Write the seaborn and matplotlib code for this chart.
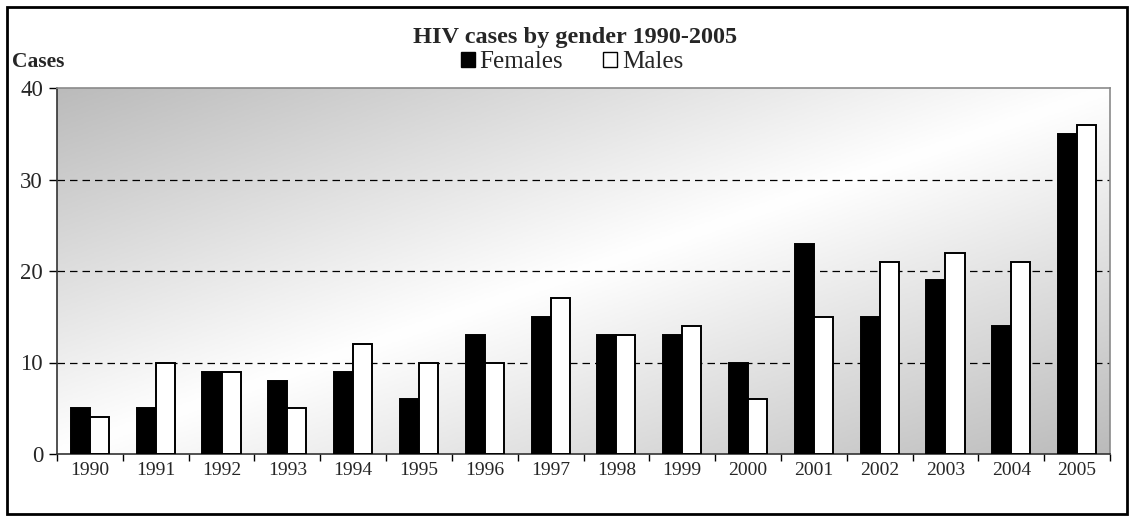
import numpy as np
import pandas as pd
import matplotlib
matplotlib.use("Agg")
import matplotlib.pyplot as plt
from matplotlib.patches import Rectangle
from matplotlib.colors import LinearSegmentedColormap
import seaborn as sns

years = ["1990", "1991", "1992", "1993", "1994", "1995", "1996", "1997",
         "1998", "1999", "2000", "2001", "2002", "2003", "2004", "2005"]
females = [5, 5, 9, 8, 9, 6, 13, 15, 13, 13, 10, 23, 15, 19, 14, 35]
males = [4, 10, 9, 5, 12, 10, 10, 17, 13, 14, 6, 15, 21, 22, 21, 36]
series_names = ["Females", "Males"]
yticks = [0, 10, 20, 30, 40]
title = "HIV cases by gender 1990-2005"
ylabel = "Cases"

sns.set_theme(style="white")
plt.rcParams["font.family"] = ["Liberation Serif", "DejaVu Serif"]

df = pd.DataFrame({
    "year": years * 2,
    "gender": [series_names[0]] * len(years) + [series_names[1]] * len(years),
    "cases": females + males,
})

W, H = 1134, 521
fig = plt.figure(figsize=(W / 100, H / 100), dpi=100)
fig.patch.set_facecolor("white")

# figure frame
fig.add_artist(Rectangle((7 / W, 7 / H), (1127 - 7) / W, (514 - 7) / H,
                         transform=fig.transFigure, fill=False,
                         edgecolor="black", linewidth=2.0))

L, R, T, B = 57, 1110, 88, 454
ax = fig.add_axes([L / W, (H - B) / H, (R - L) / W, (B - T) / H])

# diagonal gradient background
nx, ny = 400, 150
u = np.linspace(0, 1, nx)[None, :]
v = np.linspace(0, 1, ny)[:, None]
d = (u + v) / 2.0
g = np.abs(d - 0.5) * 2.0
cmap = LinearSegmentedColormap.from_list("bg", ["#ffffff", "#bbbbbb"])
ax.imshow(g, cmap=cmap, vmin=0, vmax=1, aspect="auto",
          extent=(-0.5, len(years) - 0.5, 0, 40), origin="upper", zorder=0)

sns.barplot(data=df, x="year", y="cases", hue="gender",
            palette={"Females": "black", "Males": "white"},
            edgecolor="black", linewidth=1.4, width=0.58, gap=0,
            ax=ax, legend=False, zorder=3)

ax.set_xlim(-0.5, len(years) - 0.5)
ax.set_ylim(0, 40)
ax.set_yticks(yticks)
ax.set_yticklabels([str(t) for t in yticks], fontsize=16.5)
ax.set_xticks(range(len(years)))
ax.set_xticklabels(years, fontsize=14)
ax.set_xticks(np.arange(-0.5, len(years), 1.0), minor=True)
ax.tick_params(axis="x", which="major", length=0, pad=6)
ax.tick_params(axis="x", which="minor", length=5, width=1, color="black",
               direction="out", bottom=True)
ax.tick_params(axis="y", which="major", length=6, width=1, color="black",
               direction="out", left=True, pad=4)
ax.set_xlabel("")
ax.set_ylabel("")

for y in yticks[1:-1]:
    ax.axhline(y, color="black", linewidth=0.9, linestyle=(0, (6, 4)), zorder=1)

ax.grid(False)
for side in ["left", "bottom"]:
    ax.spines[side].set_color("#333333")
    ax.spines[side].set_linewidth(1.2)
for side in ["top", "right"]:
    ax.spines[side].set_color("#8a8a8a")
    ax.spines[side].set_linewidth(1.2)
    ax.spines[side].set_visible(True)

fig.text(575 / W, 1 - 37 / H, title, ha="center", va="center",
         fontsize=17.5, fontweight="bold")
fig.text(12 / W, 1 - 62 / H, ylabel, ha="left", va="center",
         fontsize=15.5, fontweight="bold")

handles = [Rectangle((0, 0), 1, 1, facecolor="black", edgecolor="black"),
           Rectangle((0, 0), 1, 1, facecolor="white", edgecolor="black")]
fig.legend(handles, series_names, loc="center", bbox_to_anchor=(572 / W, 1 - 62 / H),
           ncol=2, frameon=False, fontsize=18, handlelength=0.55, handleheight=0.55,
           handletextpad=0.2, columnspacing=1.6, borderpad=0, borderaxespad=0)

fig.savefig("out.png", dpi=100)
